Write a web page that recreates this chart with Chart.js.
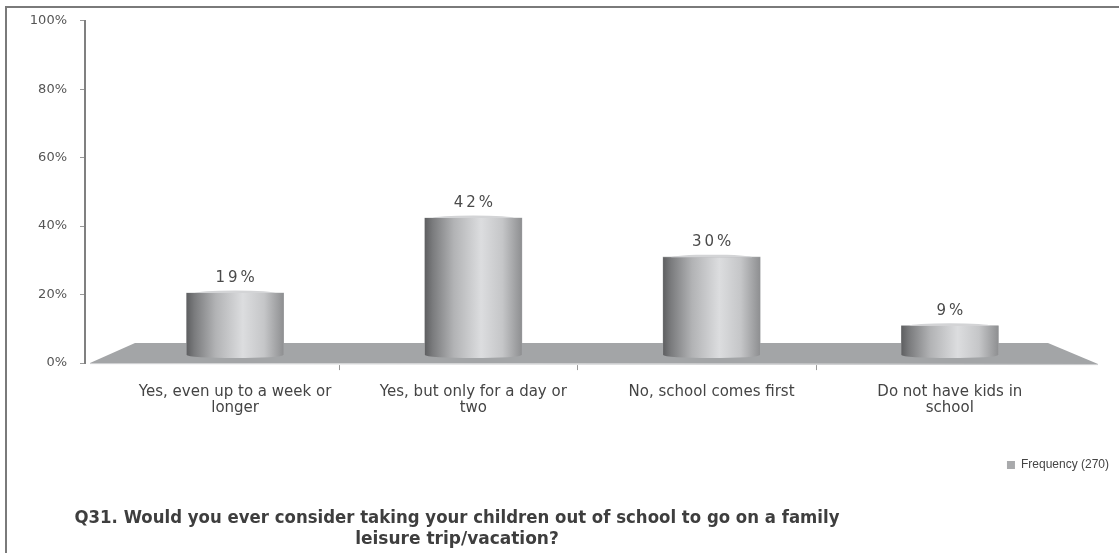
<!DOCTYPE html>
<html>
<head>
<meta charset="utf-8">
<script src="https://cdn.jsdelivr.net/npm/chart.js@4.4.1/dist/chart.umd.min.js"></script>
<style>
  html, body { margin: 0; padding: 0; background: #fff; }
  #wrap { width: 1119px; height: 553px; position: relative; }
</style>
</head>
<body>
<div id="wrap"><canvas id="q31Chart"></canvas></div>
<script>
// answers to Q31, share of respondents in %
const categories = [
    ['Yes, even up to a week or', 'longer'],
    ['Yes, but only for a day or', 'two'],
    ['No, school comes first'],
    ['Do not have kids in', 'school']
];
const shares = [19, 42, 30, 9];
const yTicks = [0, 20, 40, 60, 80, 100];
const seriesName = 'Frequency (270)';
const titleLines = [
    'Q31. Would you ever consider taking your children out of school to go on a family',
    'leisure trip/vacation?'
];

// frame, floor and cylinders are drawn around the regular bar elements
const cylinderPlugin = {
    id: 'cylinders',
    beforeDraw(chart) {
        const ctx = chart.ctx;
        ctx.save();
        ctx.fillStyle = '#fff';
        ctx.fillRect(0, 0, chart.width, chart.height);
        ctx.strokeStyle = '#7a7a7a';
        ctx.lineWidth = 2;
        ctx.beginPath();
        ctx.moveTo(chart.width, 7);
        ctx.lineTo(6, 7);
        ctx.lineTo(6, chart.height);
        ctx.stroke();
        ctx.restore();
    },
    beforeDatasetsDraw(chart) {
        const ctx = chart.ctx;
        const area = chart.chartArea;
        const base = chart.scales.y2.getPixelForValue(0);
        ctx.save();
        ctx.fillStyle = '#a3a5a7';
        ctx.beginPath();
        ctx.moveTo(area.left + 5, base + 8);
        ctx.lineTo(area.left + 50, base - 12);
        ctx.lineTo(1048, base - 12);
        ctx.lineTo(1098, base + 9);
        ctx.closePath();
        ctx.fill();
        ctx.strokeStyle = '#c9cacc';
        ctx.lineWidth = 1;
        ctx.beginPath();
        ctx.moveTo(area.left + 5, base + 8.5);
        ctx.lineTo(1098, base + 9.5);
        ctx.stroke();
        // small category separators under the floor
        const xs = chart.scales.x;
        ctx.strokeStyle = '#999';
        for (let i = 0; i < categories.length - 1; i++) {
            const px = Math.round(xs.getPixelForValue(i + 0.5)) - 14.5;
            ctx.beginPath();
            ctx.moveTo(px, base + 10);
            ctx.lineTo(px, base + 15);
            ctx.stroke();
        }
        ctx.restore();
    },
    afterDatasetsDraw(chart) {
        const ctx = chart.ctx;
        const meta = chart.getDatasetMeta(0);
        ctx.save();
        meta.data.forEach((bar, i) => {
            const w = bar.width;
            const l = bar.x - w / 2, r = bar.x + w / 2;
            const g = ctx.createLinearGradient(l, 0, r, 0);
            g.addColorStop(0, '#5e5f61');
            g.addColorStop(0.08, '#7a7b7d');
            g.addColorStop(0.3, '#b2b3b5');
            g.addColorStop(0.58, '#dcdddf');
            g.addColorStop(0.8, '#c5c6c8');
            g.addColorStop(1, '#8e8f91');
            ctx.fillStyle = g;
            ctx.beginPath();
            ctx.moveTo(l, bar.y);
            ctx.lineTo(l, bar.base);
            ctx.ellipse(bar.x, bar.base, w / 2, 3, 0, Math.PI, 0, true);
            ctx.lineTo(r, bar.y);
            ctx.closePath();
            ctx.fill();
            // top face, seen almost edge-on
            ctx.fillStyle = '#d3d4d6';
            ctx.beginPath();
            ctx.ellipse(bar.x, bar.y, w / 2 - 8, 2.5, 0, Math.PI, 0, false);
            ctx.fill();
            ctx.fillStyle = '#4a4a4a';
            ctx.font = '15px "DejaVu Sans"';
            ctx.letterSpacing = '3px';
            ctx.textAlign = 'center';
            ctx.textBaseline = 'middle';
            ctx.fillText(shares[i] + '%', bar.x + 1.5, bar.y - 15);
            ctx.letterSpacing = '0px';
        });
        ctx.restore();
    },
    afterDraw(chart) {
        const ctx = chart.ctx;
        ctx.save();
        ctx.fillStyle = '#3e3e3e';
        ctx.font = 'bold 17px "DejaVu Sans"';
        ctx.textAlign = 'center';
        ctx.textBaseline = 'middle';
        ctx.fillText(titleLines[0], 457, 519, 765);
        ctx.fillText(titleLines[1], 457, 540, 765);
        ctx.restore();
    }
};

const ctx = document.getElementById('q31Chart').getContext('2d');
const q31Chart = new Chart(ctx, {
    type: 'bar',
    data: {
        datasets: [{
            label: seriesName,
            data: shares.map((v, i) => ({ x: i, y: v })),
            yAxisID: 'y2',
            backgroundColor: '#a9aaac',
            borderWidth: 0,
            barThickness: 97
        }]
    },
    plugins: [cylinderPlugin],
    options: {
        responsive: true,
        maintainAspectRatio: false,
        animation: false,
        layout: { padding: { top: 17, left: 10, right: 0, bottom: 72 } },
        scales: {
            x: {
                type: 'linear',
                offset: false,
                min: -0.63,
                max: 3.71,
                grid: { display: false, drawTicks: false },
                border: { display: false },
                afterBuildTicks: (scale) => { scale.ticks = categories.map((c, i) => ({ value: i })); },
                afterFit: (scale) => { scale.height = 86; },
                ticks: {
                    padding: 21,
                    autoSkip: false,
                    maxRotation: 0,
                    color: '#444',
                    font: { family: 'DejaVu Sans', size: 15, lineHeight: 1.08 },
                    callback: (v) => categories[v]
                }
            },
            y: {
                position: 'left',
                min: 0,
                max: 100,
                afterBuildTicks: (scale) => { scale.ticks = yTicks.map(v => ({ value: v })); },
                afterFit: (scale) => { scale.width = 75; },
                grid: { drawOnChartArea: false, drawTicks: true, tickLength: 5, color: '#999' },
                border: { display: true, color: '#808080', width: 2 },
                ticks: {
                    padding: 13,
                    color: '#555',
                    font: { family: 'DejaVu Sans', size: 13 },
                    callback: (v) => v + '%'
                }
            },
            y2: {
                display: false,
                min: -2.42,
                max: 102.42
            }
        },
        plugins: {
            legend: {
                position: 'bottom',
                align: 'end',
                labels: {
                    boxWidth: 8,
                    boxHeight: 8,
                    padding: 10,
                    color: '#444',
                    font: { family: 'Liberation Sans', size: 12 }
                }
            },
            title: { display: false },
            tooltip: { enabled: false }
        }
    }
});
</script>
</body>
</html>
